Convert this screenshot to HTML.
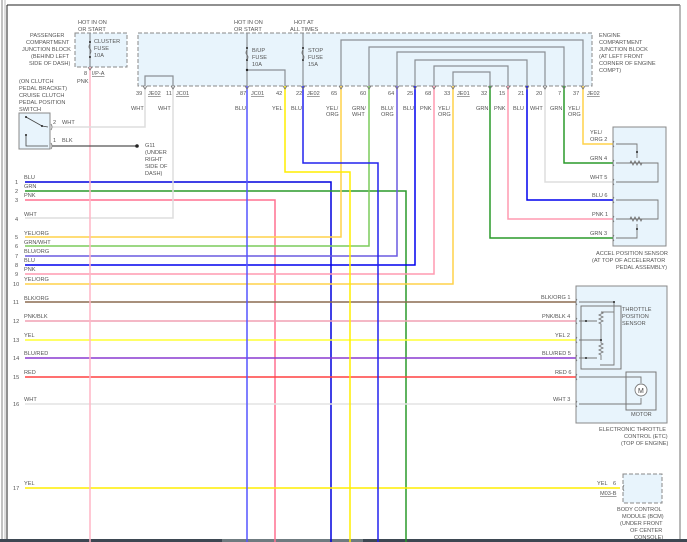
<!DOCTYPE html>
<html><head><meta charset="utf-8"><style>
html,body{margin:0;padding:0;background:#fff;}
svg{display:block;font-family:"Liberation Sans",sans-serif;}
text{font-size:5.6px;fill:#555;}
</style></head><body>
<svg width="687" height="542" viewBox="0 0 687 542" xmlns="http://www.w3.org/2000/svg">
<rect x="0" y="0" width="687" height="542" fill="#fff"/>
<!-- frame -->
<line x1="2" y1="0" x2="2" y2="542" stroke="#999" stroke-width="1.2"/>
<line x1="5" y1="0" x2="5" y2="542" stroke="#bbb" stroke-width="1"/>
<line x1="7" y1="5" x2="7" y2="542" stroke="#222" stroke-width="1"/>
<line x1="7" y1="5" x2="680" y2="5" stroke="#222" stroke-width="1"/>
<line x1="680" y1="5" x2="680" y2="542" stroke="#888" stroke-width="1.2"/>
<rect x="0" y="539" width="687" height="3" fill="#3d4752"/>
<rect x="222" y="539" width="141" height="3" fill="#6f7b80"/>

<!-- junction boxes -->
<rect x="75" y="33" width="52" height="34" fill="#e8f4fc" stroke="#888" stroke-dasharray="4,2"/>
<rect x="138" y="33" width="454" height="53" fill="#e8f4fc" stroke="#888" stroke-dasharray="4,2"/>
<rect x="19" y="113" width="31" height="36" fill="#e8f4fc" stroke="#888"/>
<rect x="613" y="127" width="53" height="119" fill="#e8f4fc" stroke="#888"/>
<rect x="576" y="286" width="91" height="137" fill="#e8f4fc" stroke="#888"/>
<rect x="581" y="306" width="40" height="63" fill="none" stroke="#777"/>
<rect x="626" y="372" width="30" height="38" fill="none" stroke="#777"/>
<rect x="623" y="474" width="39" height="29" fill="#e8f4fc" stroke="#888" stroke-dasharray="4,2"/>

<!-- internal gray loops -->
<g fill="none" stroke="#8a8f95" stroke-width="1.2">
<polyline points="341,86 341,40 583,40 583,86"/>
<polyline points="369,86 369,47 564,47 564,86"/>
<polyline points="397,86 397,52 545,52 545,86"/>
<polyline points="415,86 415,60 527,60 527,86"/>
<polyline points="434,86 434,66 508,66 508,86"/>
<polyline points="453,86 453,72 490,72 490,86"/>
<polyline points="145,86 145,76 173,76 173,86"/>
<line x1="90" y1="33" x2="90" y2="67"/>
<line x1="247" y1="33" x2="247" y2="86"/>
<polyline points="247,70 285,70 285,86"/>
<line x1="303" y1="33" x2="303" y2="86"/>
</g>
<g fill="#222"><circle cx="90" cy="42" r="1"/><circle cx="90" cy="57" r="1"/><circle cx="247" cy="48" r="1"/><circle cx="247" cy="60" r="1"/><circle cx="247" cy="70" r="1.2"/><circle cx="303" cy="48" r="1"/><circle cx="303" cy="60" r="1"/></g>
<g fill="none" stroke="#666" stroke-width="0.8">
<path d="M90,44 q-2,3 0,5 q2,2 0,5"/><path d="M247,50 q-2,3 0,5 q2,2 0,5"/><path d="M303,50 q-2,3 0,5 q2,2 0,5"/>
</g>

<!-- horizontal wires -->
<g fill="none" stroke-width="1.5">
<polyline points="25,182 331,182 331,542" stroke="#0000dd"/>
<polyline points="25,191 406,191 406,542" stroke="#2a9a2a"/>
<polyline points="25,200 275,200 275,542" stroke="#ff7090"/>
<polyline points="25,218 173,218 173,86" stroke="#dddddd"/>
<polyline points="25,237 341,237 341,86" stroke="#ffd24a"/>
<polyline points="25,246 369,246 369,86" stroke="#7ccc5c"/>
<polyline points="25,256 397,256 397,86" stroke="#6a5ae0"/>
<polyline points="25,265 415,265 415,86" stroke="#0000ee"/>
<polyline points="25,274 434,274 434,86" stroke="#ff9ab0"/>
<polyline points="25,284 453,284 453,86" stroke="#ffd24a"/>
<line x1="25" y1="302" x2="576" y2="302" stroke="#8b6b50"/>
<line x1="25" y1="321" x2="576" y2="321" stroke="#f0a0b4"/>
<line x1="25" y1="340" x2="576" y2="340" stroke="#ffff33"/>
<line x1="25" y1="358" x2="576" y2="358" stroke="#8a3ad0"/>
<line x1="25" y1="377" x2="576" y2="377" stroke="#ff4040"/>
<line x1="25" y1="404" x2="576" y2="404" stroke="#e4e4e4"/>
<line x1="25" y1="488" x2="620" y2="488" stroke="#ffee00"/>
<!-- verticals -->
<line x1="90" y1="67" x2="90" y2="542" stroke="#ffb6c6"/>
<polyline points="145,86 145,127 52,127" stroke="#dddddd"/>
<line x1="247" y1="86" x2="247" y2="542" stroke="#5555ff"/>
<polyline points="285,86 285,172 350,172 350,542" stroke="#ffee00"/>
<polyline points="303,86 303,163 378,163 378,542" stroke="#2222ee"/>
<!-- accel sensor wires -->
<polyline points="490,86 490,238 613,238" stroke="#2a9a2a"/>
<polyline points="508,86 508,219 613,219" stroke="#ff9ab0"/>
<polyline points="527,86 527,200 613,200" stroke="#0000ee"/>
<polyline points="545,86 545,182 613,182" stroke="#dddddd"/>
<polyline points="564,86 564,163 613,163" stroke="#2a9a2a"/>
<polyline points="583,86 583,144 613,144" stroke="#ffd24a"/>
</g>
<line x1="52" y1="146" x2="138" y2="146" stroke="#555" stroke-width="1.2"/>
<circle cx="137" cy="146" r="1.8" fill="#222"/>

<!-- switch internals -->
<g stroke="#444" stroke-width="0.8" fill="none">
<polyline points="26,117 42,126 48,127"/><polyline points="26,135 26,146 48,146"/>
</g>
<g fill="#222"><circle cx="26" cy="117" r="1"/><circle cx="42" cy="126" r="1"/><circle cx="26" cy="135" r="1"/></g>

<!-- accel sensor internals -->
<g stroke="#777" stroke-width="0.9" fill="none">
<polyline points="616,144 637,144 637,158"/>
<polyline points="616,163 658,163 658,182 616,182"/>
<polyline points="616,200 658,200 658,219 616,219"/>
<polyline points="616,238 637,238 637,224"/>
<path d="M630,163 l1,-2 l2,4 l2,-4 l2,4 l2,-4 l2,4 l1,-2"/>
<path d="M630,219 l1,-2 l2,4 l2,-4 l2,4 l2,-4 l2,4 l1,-2"/>
</g>
<g fill="#222"><circle cx="637" cy="152" r="1"/><circle cx="637" cy="229" r="1"/></g>

<!-- throttle internals -->
<g stroke="#777" stroke-width="0.9" fill="none">
<polyline points="579,302 614,302 614,365 600,365"/>
<polyline points="579,321 597,321"/><polyline points="579,358 597,358"/>
<polyline points="579,340 601,340"/>
<path d="M601,312 l2,1 l-4,2 l4,2 l-4,2 l4,2 l-4,2 l2,1 l0,19 l2,1 l-4,2 l4,2 l-4,2 l4,2 l-4,2 l2,1 l0,5"/>
<line x1="601" y1="312" x2="614" y2="312"/>
<polyline points="579,377 641,377 641,383"/>
<polyline points="579,404 641,404 641,398"/>
<circle cx="641" cy="390" r="6" fill="#fff"/>
</g>
<text x="638" y="393" style="font-size:7px;fill:#444">M</text>
<g fill="#222"><circle cx="614" cy="302" r="1"/><circle cx="586" cy="321" r="1"/><circle cx="601" cy="340" r="1"/><circle cx="586" cy="358" r="1"/></g>

<!-- connector marks -->
<g fill="none" stroke="#777" stroke-width="0.8">
<path d="M143,86 l2,3 l2,-3 M171,86 l2,3 l2,-3 M245,86 l2,3 l2,-3 M283,86 l2,3 l2,-3 M301,86 l2,3 l2,-3 M339,86 l2,3 l2,-3 M367,86 l2,3 l2,-3 M395,86 l2,3 l2,-3 M413,86 l2,3 l2,-3 M432,86 l2,3 l2,-3 M451,86 l2,3 l2,-3 M488,86 l2,3 l2,-3 M506,86 l2,3 l2,-3 M525,86 l2,3 l2,-3 M543,86 l2,3 l2,-3 M562,86 l2,3 l2,-3 M581,86 l2,3 l2,-3 M88,67 l2,3 l2,-3"/>
<path d="M614,141 q-2,3 0,6 M614,160 q-2,3 0,6 M614,179 q-2,3 0,6 M614,197 q-2,3 0,6 M614,216 q-2,3 0,6 M614,235 q-2,3 0,6"/>
<path d="M577,299 q-2,3 0,6 M577,318 q-2,3 0,6 M577,337 q-2,3 0,6 M577,355 q-2,3 0,6 M577,374 q-2,3 0,6 M577,401 q-2,3 0,6 M624,485 q-2,3 0,6 M51,124 q2,3 0,6 M51,143 q2,3 0,6"/>
</g>

<!-- text labels -->
<g>
<text x="78" y="24">HOT IN ON</text><text x="78" y="31">OR START</text>
<text x="30" y="37">PASSENGER</text><text x="26" y="44">COMPARTMENT</text><text x="22" y="51">JUNCTION BLOCK</text><text x="31" y="58">(BEHIND LEFT</text><text x="29" y="65">SIDE OF DASH)</text>
<text x="94" y="43">CLUSTER</text><text x="94" y="50">FUSE</text><text x="94" y="57">10A</text>
<text x="84" y="75">8</text><text x="92" y="75" text-decoration="underline">I/P-A</text><text x="77" y="83">PNK</text>
<text x="19" y="83">(ON CLUTCH</text><text x="19" y="90">PEDAL BRACKET)</text><text x="19" y="97">CRUISE CLUTCH</text><text x="19" y="104">PEDAL POSITION</text><text x="19" y="111">SWITCH</text>
<text x="53" y="124">2</text><text x="62" y="124">WHT</text><text x="53" y="142">1</text><text x="62" y="142">BLK</text>
<text x="145" y="147">G11</text><text x="145" y="154">(UNDER</text><text x="145" y="161">RIGHT</text><text x="145" y="168">SIDE OF</text><text x="145" y="175">DASH)</text>
<text x="234" y="24">HOT IN ON</text><text x="234" y="31">OR START</text>
<text x="294" y="24">HOT AT</text><text x="290" y="31">ALL TIMES</text>
<text x="252" y="52">B/UP</text><text x="252" y="59">FUSE</text><text x="252" y="66">10A</text>
<text x="308" y="52">STOP</text><text x="308" y="59">FUSE</text><text x="308" y="66">15A</text>
<text x="599" y="37">ENGINE</text><text x="599" y="44">COMPARTMENT</text><text x="599" y="51">JUNCTION BLOCK</text><text x="599" y="58">(AT LEFT FRONT</text><text x="599" y="65">CORNER OF ENGINE</text><text x="599" y="72">COMPT)</text>
<text x="136" y="95">39</text><text x="148" y="95" text-decoration="underline">JE02</text><text x="166" y="95">11</text><text x="176" y="95" text-decoration="underline">JC01</text>
<text x="240" y="95">87</text><text x="251" y="95" text-decoration="underline">JC01</text><text x="276" y="95">42</text><text x="296" y="95">22</text><text x="307" y="95" text-decoration="underline">JE02</text>
<text x="331" y="95">65</text><text x="360" y="95">60</text><text x="388" y="95">64</text><text x="407" y="95">25</text><text x="425" y="95">68</text><text x="444" y="95">33</text><text x="457" y="95" text-decoration="underline">JE01</text>
<text x="481" y="95">32</text><text x="499" y="95">15</text><text x="518" y="95">21</text><text x="536" y="95">20</text><text x="558" y="95">7</text><text x="573" y="95">37</text><text x="587" y="95" text-decoration="underline">JE02</text>
<text x="131" y="110">WHT</text><text x="158" y="110">WHT</text><text x="235" y="110">BLU</text><text x="272" y="110">YEL</text><text x="291" y="110">BLU</text>
<text x="326" y="110">YEL/</text><text x="326" y="116">ORG</text><text x="352" y="110">GRN/</text><text x="352" y="116">WHT</text>
<text x="381" y="110">BLU/</text><text x="381" y="116">ORG</text><text x="403" y="110">BLU</text><text x="420" y="110">PNK</text>
<text x="438" y="110">YEL/</text><text x="438" y="116">ORG</text>
<text x="476" y="110">GRN</text><text x="494" y="110">PNK</text><text x="513" y="110">BLU</text><text x="530" y="110">WHT</text><text x="550" y="110">GRN</text>
<text x="568" y="110">YEL/</text><text x="568" y="116">ORG</text>
<text x="590" y="134">YEL/</text><text x="590" y="141">ORG 2</text>
<text x="590" y="160">GRN 4</text><text x="590" y="179">WHT 5</text><text x="592" y="197">BLU 6</text><text x="592" y="216">PNK 1</text><text x="590" y="235">GRN 3</text>
<text x="596" y="255">ACCEL POSITION SENSOR</text><text x="592" y="262">(AT TOP OF ACCELERATOR</text><text x="616" y="269">PEDAL ASSEMBLY)</text>
<text x="541" y="299">BLK/ORG 1</text><text x="542" y="318">PNK/BLK 4</text><text x="555" y="337">YEL 2</text><text x="542" y="355">BLU/RED 5</text><text x="555" y="374">RED 6</text><text x="553" y="401">WHT 3</text>
<text x="622" y="311">THROTTLE</text><text x="622" y="318">POSITION</text><text x="622" y="325">SENSOR</text>
<text x="631" y="416">MOTOR</text>
<text x="599" y="431">ELECTRONIC THROTTLE</text><text x="624" y="438">CONTROL (ETC)</text><text x="621" y="445">(TOP OF ENGINE)</text>
<text x="597" y="485">YEL</text><text x="613" y="485">6</text><text x="600" y="495" text-decoration="underline">M03-B</text>
<text x="617" y="511">BODY CONTROL</text><text x="622" y="518">MODULE (BCM)</text><text x="620" y="525">(UNDER FRONT</text><text x="630" y="532">OF CENTER</text><text x="634" y="539">CONSOLE)</text>
</g>
<g>
<text x="15" y="184">1</text><text x="24" y="179">BLU</text>
<text x="15" y="193">2</text><text x="24" y="188">GRN</text>
<text x="15" y="202">3</text><text x="24" y="197">PNK</text>
<text x="15" y="221">4</text><text x="24" y="216">WHT</text>
<text x="15" y="239">5</text><text x="24" y="235">YEL/ORG</text>
<text x="15" y="248">6</text><text x="24" y="244">GRN/WHT</text>
<text x="15" y="258">7</text><text x="24" y="253">BLU/ORG</text>
<text x="15" y="267">8</text><text x="24" y="262">BLU</text>
<text x="15" y="276">9</text><text x="24" y="271">PNK</text>
<text x="13" y="286">10</text><text x="24" y="281">YEL/ORG</text>
<text x="13" y="304">11</text><text x="24" y="300">BLK/ORG</text>
<text x="13" y="323">12</text><text x="24" y="318">PNK/BLK</text>
<text x="13" y="342">13</text><text x="24" y="337">YEL</text>
<text x="13" y="360">14</text><text x="24" y="355">BLU/RED</text>
<text x="13" y="379">15</text><text x="24" y="374">RED</text>
<text x="13" y="406">16</text><text x="24" y="401">WHT</text>
<text x="13" y="490">17</text><text x="24" y="485">YEL</text>
</g>
</svg>
</body></html>
